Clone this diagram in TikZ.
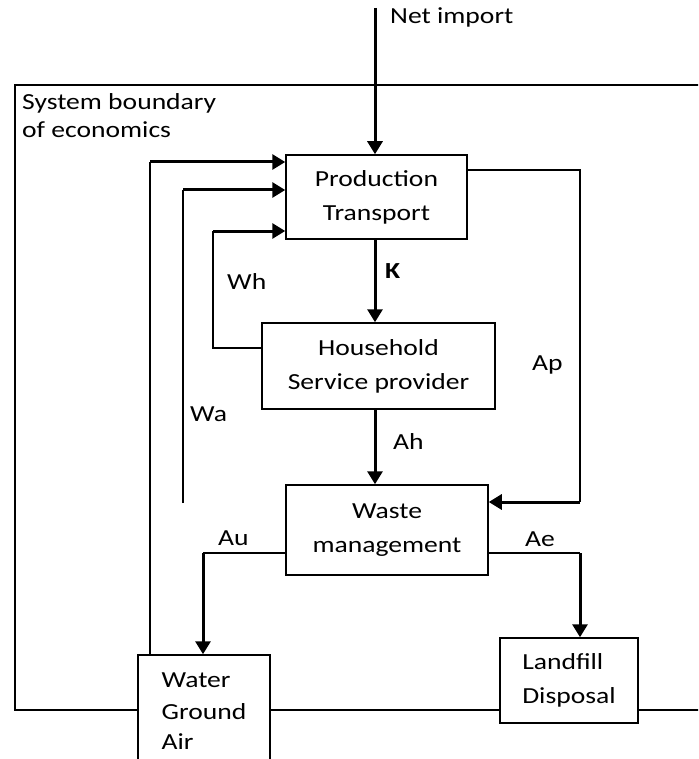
\documentclass[tikz,border=0pt]{standalone}
\usepackage{fontspec}
\setmainfont{Carlito}[FakeStretch=1.2]
\usetikzlibrary{arrows.meta}

\begin{document}
\begin{tikzpicture}[x=1pt,y=-1pt,
  font=\fontsize{23}{34}\selectfont,
  box/.style={rectangle,draw,fill=white,line width=1.5pt,align=center,inner sep=0pt},
  link/.style={line width=1.5pt},
  flow/.style={line width=3pt,-{Triangle[length=13pt,width=15pt]}},
  lab/.style={anchor=base west,inner sep=0pt}]
\useasboundingbox (0,0) rectangle (698,759);
\clip (0,0) rectangle (698,759);

% system boundary
\draw[link] (760,85) -- (15,85) -- (15,710) -- (760,710);
\path (22,110) node[lab] (sys) {System boundary};
\path (22,138) node[lab] (eco) {of economics};

\path (376.5,197) node[box,minimum width=181pt,minimum height=84pt] (prod) {Production\\Transport};
\path (378.5,366) node[box,minimum width=233pt,minimum height=86pt] (house) {Household\\Service provider};
\path (387,530) node[box,minimum width=202pt,minimum height=90pt] (waste) {Waste\\management};
\path (204,711) node[box,align=left,minimum width=132pt,minimum height=112pt] (env) {Water\\[-2pt]Ground\\[-4pt]Air};
\path (569,680.5) node[box,align=left,minimum width=138pt,minimum height=85pt] (fill) {Landfill\\Disposal};

% import
\coordinate (imp) at (375,8);
\draw[flow] (imp) -- (imp |- prod.north);
\path (390,24) node[lab] (net) {Net import};

% K and Ah
\draw[flow] (imp |- prod.south) -- (imp |- house.north);
\path (385,278) node[lab] (k) {\bfseries K};
\draw[flow] (imp |- house.south) -- (imp |- waste.north);
\path (393,449) node[lab] (ah) {Ah};

% Ap
\coordinate (ap) at (580,170);
\coordinate (apb) at (580,502);
\draw[link] (ap -| prod.east) -- (ap) -- (apb);
\draw[flow] (apb) -- (apb -| waste.east);
\path (532,370) node[lab] (aplab) {Ap};

% Wh
\coordinate (wh) at (213,231);
\coordinate (whb) at (213,348);
\draw[link] (whb -| house.west) -- (whb) -- (wh);
\draw[flow] (wh) -- (wh -| prod.west);
\path (227,289) node[lab] (whlab) {Wh};

% Wa
\coordinate (wa) at (183,503);
\coordinate (wat) at (183,190);
\draw[link] (wa) -- (wat);
\draw[flow] (wat) -- (wat -| prod.west);
\path (190,421) node[lab] (walab) {Wa};

% return from environment
\coordinate (ret) at (150,162);
\draw[link] (ret |- env.north) -- (ret);
\draw[flow] (ret) -- (ret -| prod.west);

% Au
\coordinate (au) at (203,553);
\draw[link] (au -| waste.west) -- (au);
\draw[flow] (au) -- (au |- env.north);
\path (218,545) node[lab] (aulab) {Au};

% Ae
\coordinate (ae) at (580,553);
\draw[link] (ae -| waste.east) -- (ae);
\draw[flow] (ae) -- (ae |- fill.north);
\path (525,546) node[lab] (aelab) {Ae};
\end{tikzpicture}
\end{document}
